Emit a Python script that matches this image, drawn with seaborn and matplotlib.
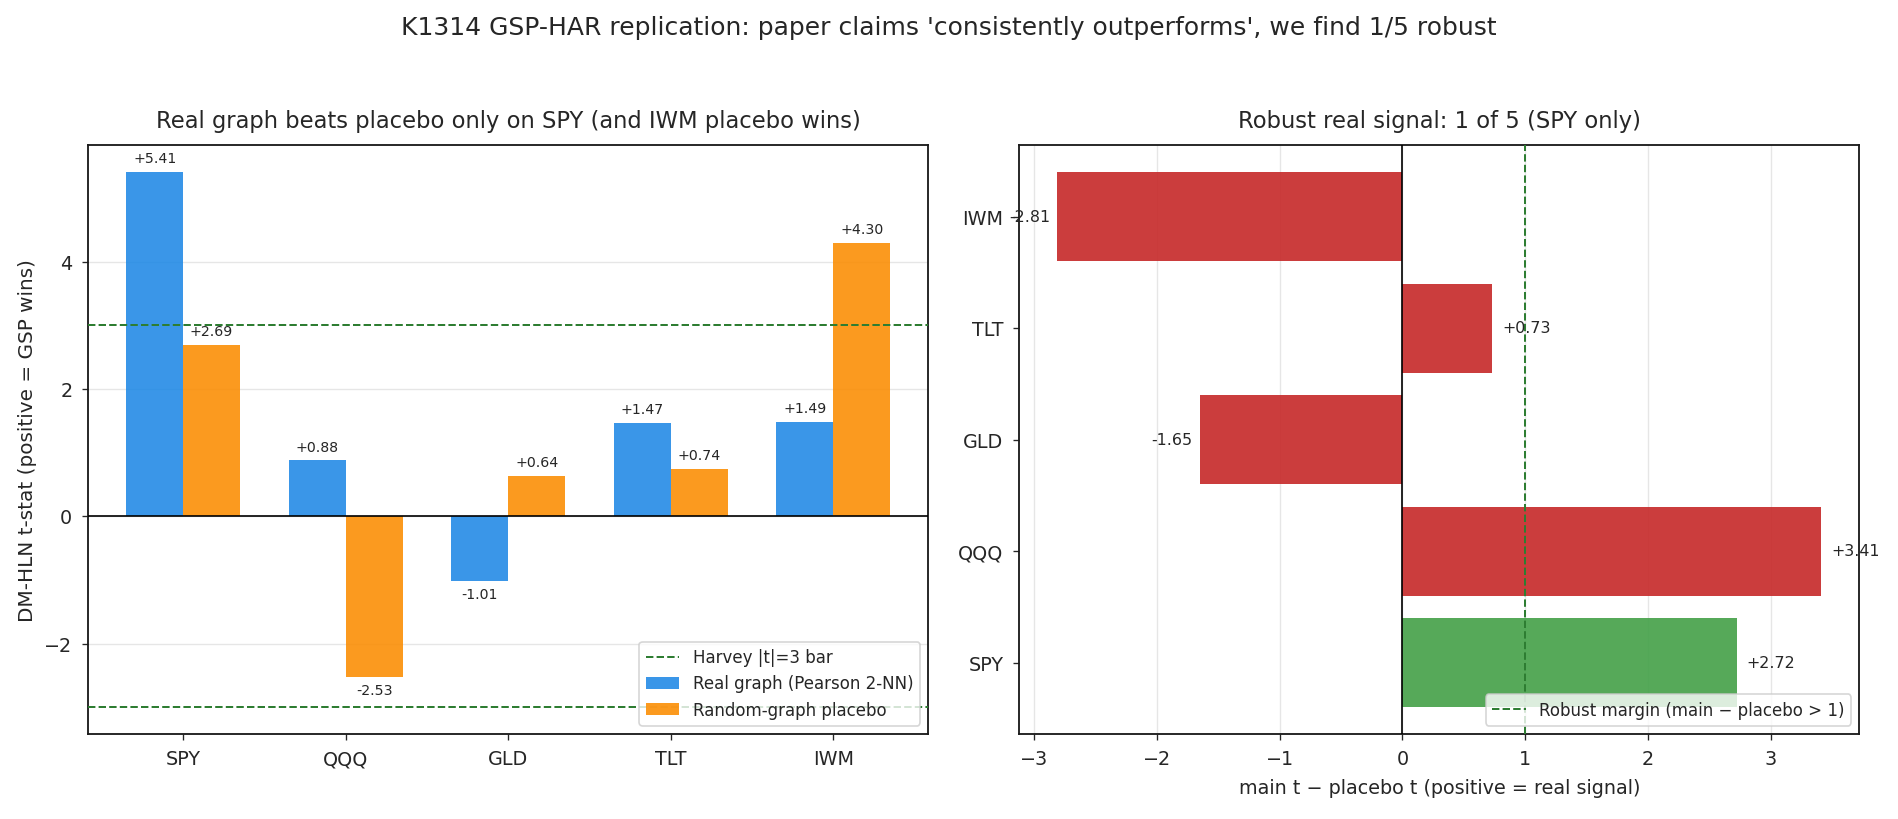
import numpy as np
import pandas as pd
import matplotlib
matplotlib.use("Agg")
import matplotlib.pyplot as plt
import seaborn as sns
from matplotlib.lines import Line2D
from matplotlib.patches import Patch

sns.set_style("ticks")
plt.rcParams["font.family"] = ["DejaVu Sans"]
plt.rcParams["axes.unicode_minus"] = True

# data
tickers = ["SPY", "QQQ", "GLD", "TLT", "IWM"]
real_t = [5.41, 0.88, -1.01, 1.47, 1.49]
placebo_t = [2.69, -2.53, 0.64, 0.74, 4.30]
harvey_bar = 3.0
robust_margin = 1.0

real_label = "Real graph (Pearson 2-NN)"
placebo_label = "Random-graph placebo"

BLUE = "#1e88e5"
ORANGE = "#fb8c00"
RED = "#c62828"
GREEN = "#43a047"
LINE_GREEN = "#2e7d32"

long_df = pd.DataFrame({
    "ticker": tickers * 2,
    "t": real_t + placebo_t,
    "graph": [real_label] * len(tickers) + [placebo_label] * len(tickers),
})

diff = [r - p for r, p in zip(real_t, placebo_t)]
robust = [(r > harvey_bar) and (d > robust_margin) for r, d in zip(real_t, diff)]
diff_df = pd.DataFrame({"ticker": tickers, "diff": diff, "robust": robust})
order_h = tickers[::-1]  # SPY at the bottom

fig, (ax1, ax2) = plt.subplots(1, 2, figsize=(15.82, 6.83), dpi=120)
fig.subplots_adjust(left=0.0464, right=0.9795, top=0.822, bottom=0.1037, wspace=0.108)

# ---- left: grouped bars ----
ax1.grid(axis="y", color="#e6e6e6", lw=0.8, zorder=0)
ax1.set_axisbelow(True)
sns.barplot(data=long_df, x="ticker", y="t", hue="graph", order=tickers,
            palette={real_label: BLUE, placebo_label: ORANGE},
            width=0.7, saturation=1, alpha=0.88, linewidth=0,
            ax=ax1, legend=False, zorder=2)
ax1.axhline(0, color="black", lw=1.0, zorder=3)
ax1.axhline(harvey_bar, color=LINE_GREEN, ls="--", lw=1.2, zorder=3)
ax1.axhline(-harvey_bar, color=LINE_GREEN, ls="--", lw=1.2, zorder=3)

for i, (r, p) in enumerate(zip(real_t, placebo_t)):
    for xoff, v in ((-0.175, r), (0.175, p)):
        off = 0.1 if v >= 0 else -0.1
        ax1.text(i + xoff, v + off, f"{v:+.2f}", ha="center",
                 va="bottom" if v >= 0 else "top", fontsize=8.5)

ax1.set_xlim(-0.585, 4.585)
ax1.set_ylim(-3.42, 5.83)
ax1.set_yticks([-2, 0, 2, 4])
ax1.set_xlabel("")
ax1.set_ylabel("DM-HLN t-stat (positive = GSP wins)", fontsize=12)
ax1.tick_params(labelsize=11.5, pad=6)
ax1.set_title("Real graph beats placebo only on SPY (and IWM placebo wins)", fontsize=13.6, pad=11)
handles = [Line2D([0], [0], color=LINE_GREEN, ls="--", lw=1.2),
           Patch(color=BLUE, alpha=0.88, lw=0), Patch(color=ORANGE, alpha=0.88, lw=0)]
ax1.legend(handles, ["Harvey |t|=3 bar", real_label, placebo_label],
           loc="lower right", fontsize=10)

# ---- right: main - placebo ----
ax2.grid(axis="x", color="#e6e6e6", lw=0.8, zorder=0)
ax2.set_axisbelow(True)
pal = {t: (GREEN if rb else RED) for t, rb in zip(tickers, robust)}
sns.barplot(data=diff_df, y="ticker", x="diff", hue="ticker", order=order_h,
            palette=pal, width=0.8, saturation=1, alpha=0.9, linewidth=0,
            ax=ax2, legend=False, orient="h", zorder=2)
ax2.axvline(0, color="black", lw=1.0, zorder=3)
ax2.axvline(robust_margin, color=LINE_GREEN, ls="--", lw=1.2, zorder=3,
            label="Robust margin (main \u2212 placebo > 1)")
for j, t in enumerate(order_h):
    v = diff[tickers.index(t)]
    if v >= 0:
        ax2.text(v + 0.08, j, f"{v:+.2f}", ha="left", va="center", fontsize=9.5)
    else:
        ax2.text(v - 0.06, j, f"{v:+.2f}", ha="right", va="center", fontsize=9.5)

ax2.set_xlim(-3.12, 3.72)
ax2.set_ylim(4.64, -0.64)
ax2.set_ylabel("")
ax2.set_xlabel("main t \u2212 placebo t (positive = real signal)", fontsize=11.5, labelpad=6)
ax2.tick_params(labelsize=11.5, pad=6)
ax2.set_title("Robust real signal: 1 of 5 (SPY only)", fontsize=13.6, pad=11)
ax2.legend(loc="lower right", fontsize=10)

for ax in (ax1, ax2):
    for s in ax.spines.values():
        s.set_color("#1a1a1a")
        s.set_linewidth(1.1)

fig.suptitle("K1314 GSP-HAR replication: paper claims 'consistently outperforms', we find 1/5 robust",
             fontsize=15, y=0.98)

fig.savefig("out.png", dpi=120)
